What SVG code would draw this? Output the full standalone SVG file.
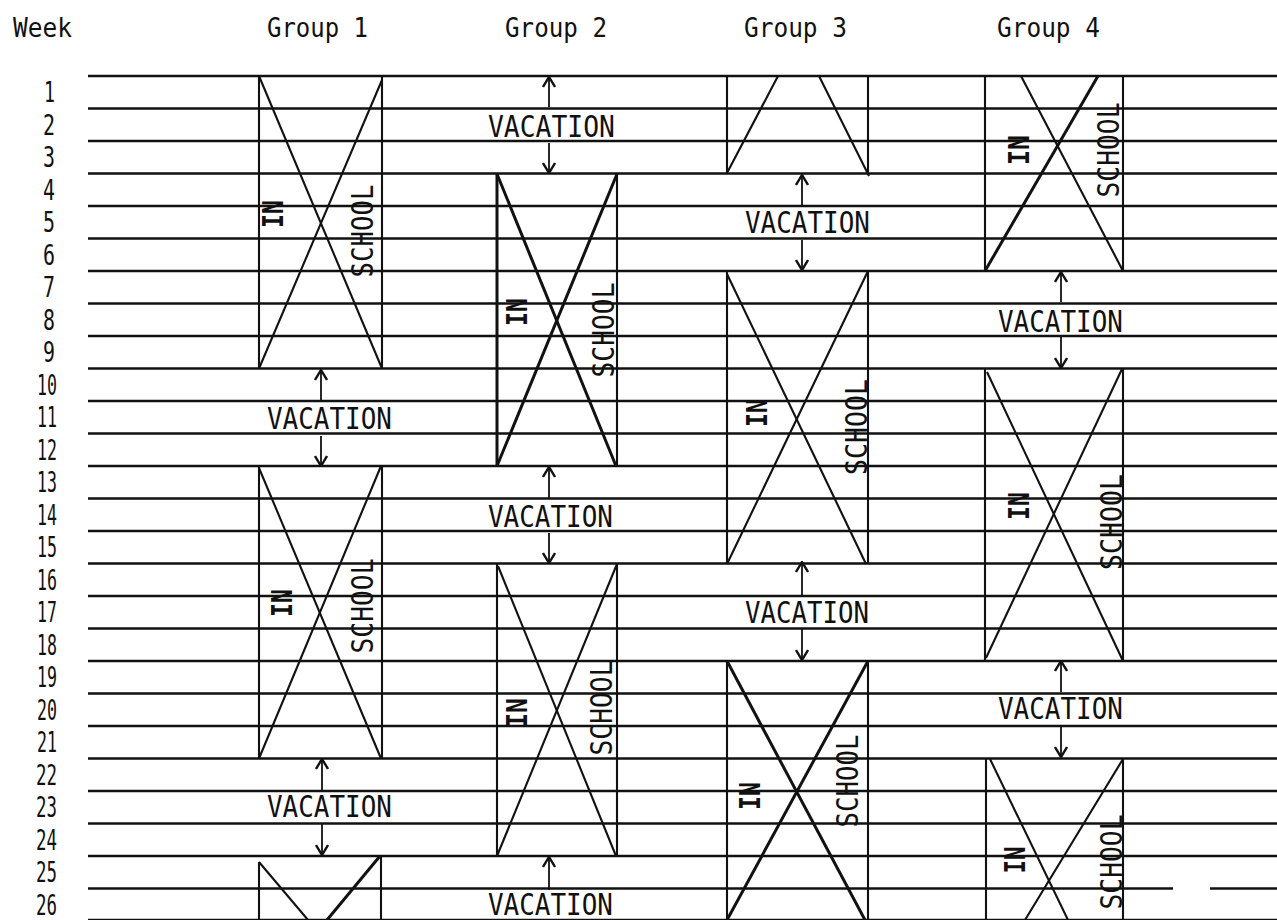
<svg xmlns="http://www.w3.org/2000/svg" width="1277" height="920" viewBox="0 0 1277 920">
<style>
  text { font-family: "DejaVu Sans Mono", "Liberation Mono", monospace; fill: #111; }
  .hdr { font-size: 26px; }
  .num { font-size: 28px; text-anchor: end; }
  .vac { font-size: 31px; }
  .in { font-size: 28px; text-anchor: middle; font-weight: bold; }
  .sch { font-size: 31px; text-anchor: middle; }
  .grid line { stroke: #111; stroke-width: 2.6; }
  .box line { stroke: #111; stroke-width: 2.1; }
  .box line.b { stroke-width: 3; }
  .arr { stroke: #111; stroke-width: 1.8; marker-end: url(#ah); }
</style>
<defs>
  <marker id="ah" viewBox="0 0 12 14" refX="11" refY="7" markerWidth="12" markerHeight="14" markerUnits="userSpaceOnUse" orient="auto">
    <path d="M1,1 L11,7 L1,13" fill="none" stroke="#111" stroke-width="2.4"/>
  </marker>
</defs>
<rect width="1277" height="920" fill="#fff"/>

<g id="headers">
  <text class="hdr" x="13" y="37" textLength="59" lengthAdjust="spacingAndGlyphs">Week</text>
  <text class="hdr" x="267" y="37" textLength="101" lengthAdjust="spacingAndGlyphs">Group 1</text>
  <text class="hdr" x="505" y="37" textLength="102" lengthAdjust="spacingAndGlyphs">Group 2</text>
  <text class="hdr" x="744" y="37" textLength="103" lengthAdjust="spacingAndGlyphs">Group 3</text>
  <text class="hdr" x="997" y="37" textLength="103" lengthAdjust="spacingAndGlyphs">Group 4</text>
</g>

<g id="week-numbers">
  <text class="num" x="55" y="102.25" textLength="11" lengthAdjust="spacingAndGlyphs">1</text>
  <text class="num" x="55" y="134.75" textLength="12" lengthAdjust="spacingAndGlyphs">2</text>
  <text class="num" x="55" y="167.25" textLength="12" lengthAdjust="spacingAndGlyphs">3</text>
  <text class="num" x="55" y="199.75" textLength="12" lengthAdjust="spacingAndGlyphs">4</text>
  <text class="num" x="55" y="232.25" textLength="12" lengthAdjust="spacingAndGlyphs">5</text>
  <text class="num" x="55" y="264.75" textLength="12" lengthAdjust="spacingAndGlyphs">6</text>
  <text class="num" x="55" y="297.25" textLength="12" lengthAdjust="spacingAndGlyphs">7</text>
  <text class="num" x="55" y="329.75" textLength="12" lengthAdjust="spacingAndGlyphs">8</text>
  <text class="num" x="55" y="362.25" textLength="12" lengthAdjust="spacingAndGlyphs">9</text>
  <text class="num" x="57" y="394.75" textLength="20" lengthAdjust="spacingAndGlyphs">10</text>
  <text class="num" x="57" y="427.25" textLength="20" lengthAdjust="spacingAndGlyphs">11</text>
  <text class="num" x="57" y="459.75" textLength="20" lengthAdjust="spacingAndGlyphs">12</text>
  <text class="num" x="57" y="492.25" textLength="20" lengthAdjust="spacingAndGlyphs">13</text>
  <text class="num" x="57" y="524.75" textLength="20" lengthAdjust="spacingAndGlyphs">14</text>
  <text class="num" x="57" y="557.25" textLength="20" lengthAdjust="spacingAndGlyphs">15</text>
  <text class="num" x="57" y="589.75" textLength="20" lengthAdjust="spacingAndGlyphs">16</text>
  <text class="num" x="57" y="622.25" textLength="20" lengthAdjust="spacingAndGlyphs">17</text>
  <text class="num" x="57" y="654.75" textLength="20" lengthAdjust="spacingAndGlyphs">18</text>
  <text class="num" x="57" y="687.25" textLength="20" lengthAdjust="spacingAndGlyphs">19</text>
  <text class="num" x="57" y="719.75" textLength="20" lengthAdjust="spacingAndGlyphs">20</text>
  <text class="num" x="57" y="752.25" textLength="20" lengthAdjust="spacingAndGlyphs">21</text>
  <text class="num" x="57" y="784.75" textLength="21" lengthAdjust="spacingAndGlyphs">22</text>
  <text class="num" x="57" y="817.25" textLength="21" lengthAdjust="spacingAndGlyphs">23</text>
  <text class="num" x="57" y="849.75" textLength="21" lengthAdjust="spacingAndGlyphs">24</text>
  <text class="num" x="57" y="882.25" textLength="21" lengthAdjust="spacingAndGlyphs">25</text>
  <text class="num" x="57" y="914.75" textLength="21" lengthAdjust="spacingAndGlyphs">26</text>
</g>

<g id="grid" class="grid">
  <line x1="88" y1="76" x2="1277" y2="76"/>
  <line x1="88" y1="108.5" x2="1277" y2="108.5"/>
  <line x1="88" y1="141" x2="1277" y2="141"/>
  <line x1="88" y1="173.5" x2="1277" y2="173.5"/>
  <line x1="88" y1="206" x2="1277" y2="206"/>
  <line x1="88" y1="238.5" x2="1277" y2="238.5"/>
  <line x1="88" y1="271" x2="1277" y2="271"/>
  <line x1="88" y1="303.5" x2="1277" y2="303.5"/>
  <line x1="88" y1="336" x2="1277" y2="336"/>
  <line x1="88" y1="368.5" x2="1277" y2="368.5"/>
  <line x1="88" y1="401" x2="1277" y2="401"/>
  <line x1="88" y1="433.5" x2="1277" y2="433.5"/>
  <line x1="88" y1="466" x2="1277" y2="466"/>
  <line x1="88" y1="498.5" x2="1277" y2="498.5"/>
  <line x1="88" y1="531" x2="1277" y2="531"/>
  <line x1="88" y1="563.5" x2="1277" y2="563.5"/>
  <line x1="88" y1="596" x2="1277" y2="596"/>
  <line x1="88" y1="628.5" x2="1277" y2="628.5"/>
  <line x1="88" y1="661" x2="1277" y2="661"/>
  <line x1="88" y1="693.5" x2="1277" y2="693.5"/>
  <line x1="88" y1="726" x2="1277" y2="726"/>
  <line x1="88" y1="758.5" x2="1277" y2="758.5"/>
  <line x1="88" y1="791" x2="1277" y2="791"/>
  <line x1="88" y1="823.5" x2="1277" y2="823.5"/>
  <line x1="88" y1="856" x2="1277" y2="856"/>
  <line x1="88" y1="888.5" x2="1173" y2="888.5"/>
  <line x1="1210" y1="888.5" x2="1277" y2="888.5"/>
  <line x1="88" y1="920" x2="1277" y2="920"/>
</g>

<!-- Group 1 -->
<g id="g1-school-1" class="box">
  <line x1="259" y1="76" x2="259" y2="368.5"/>
  <line x1="382" y1="76" x2="382" y2="368.5"/>
  <line x1="259" y1="76" x2="382" y2="368.5"/>
  <line x1="382" y1="80" x2="259" y2="368.5"/>
  <text class="in" transform="translate(283,214) rotate(-90)" textLength="28" lengthAdjust="spacingAndGlyphs">IN</text>
  <text class="sch" transform="translate(373,231) rotate(-90)" textLength="93" lengthAdjust="spacingAndGlyphs">SCHOOL</text>
</g>
<g id="g1-vacation-1">
  <text class="vac" x="267" y="429" textLength="125" lengthAdjust="spacingAndGlyphs">VACATION</text>
</g>
<g id="g1-school-2" class="box">
  <line x1="259" y1="466" x2="259" y2="758.5"/>
  <line x1="382" y1="466" x2="382" y2="758.5"/>
  <line x1="259" y1="468" x2="381" y2="758.5"/>
  <line x1="381" y1="466" x2="259" y2="758.5"/>
  <text class="in" transform="translate(292,603) rotate(-90)" textLength="28" lengthAdjust="spacingAndGlyphs">IN</text>
  <text class="sch" transform="translate(373,606) rotate(-90)" textLength="95" lengthAdjust="spacingAndGlyphs">SCHOOL</text>
</g>
<g id="g1-vacation-2">
  <text class="vac" x="267" y="817" textLength="125" lengthAdjust="spacingAndGlyphs">VACATION</text>
</g>
<g id="g1-school-3" class="box">
  <line x1="259" y1="862" x2="259" y2="920"/>
  <line x1="381" y1="856" x2="381" y2="920"/>
  <line x1="259" y1="862" x2="308" y2="920"/>
  <line class="b" x1="380" y1="856" x2="327" y2="920"/>
</g>

<!-- Group 2 -->
<g id="g2-vacation-1">
  <text class="vac" x="488" y="137" textLength="127" lengthAdjust="spacingAndGlyphs">VACATION</text>
</g>
<g id="g2-school-1" class="box">
  <line class="b" x1="497" y1="174" x2="497" y2="466"/>
  <line x1="617" y1="174" x2="617" y2="466"/>
  <line class="b" x1="497" y1="174" x2="616" y2="466"/>
  <line class="b" x1="617" y1="174" x2="497" y2="466"/>
  <text class="in" transform="translate(527,312) rotate(-90)" textLength="28" lengthAdjust="spacingAndGlyphs">IN</text>
  <text class="sch" transform="translate(614,330) rotate(-90)" textLength="95" lengthAdjust="spacingAndGlyphs">SCHOOL</text>
</g>
<g id="g2-vacation-2">
  <text class="vac" x="488" y="527" textLength="125" lengthAdjust="spacingAndGlyphs">VACATION</text>
</g>
<g id="g2-school-2" class="box">
  <line x1="497" y1="564" x2="497" y2="856"/>
  <line x1="617" y1="564" x2="617" y2="856"/>
  <line x1="498" y1="566" x2="616" y2="856"/>
  <line x1="617" y1="564" x2="497" y2="856"/>
  <text class="in" transform="translate(527,713) rotate(-90)" textLength="30" lengthAdjust="spacingAndGlyphs">IN</text>
  <text class="sch" transform="translate(612,708) rotate(-90)" textLength="95" lengthAdjust="spacingAndGlyphs">SCHOOL</text>
</g>
<g id="g2-vacation-3">
  <text class="vac" x="488" y="915" textLength="125" lengthAdjust="spacingAndGlyphs">VACATION</text>
</g>

<!-- Group 3 -->
<g id="g3-school-0" class="box">
  <line x1="727" y1="76" x2="727" y2="174"/>
  <line x1="868" y1="76" x2="868" y2="174"/>
  <line x1="778" y1="76" x2="727" y2="173"/>
  <line x1="819" y1="76" x2="869" y2="176"/>
</g>
<g id="g3-vacation-1">
  <text class="vac" x="745" y="233" textLength="125" lengthAdjust="spacingAndGlyphs">VACATION</text>
</g>
<g id="g3-school-1" class="box">
  <line x1="727" y1="271" x2="727" y2="564"/>
  <line x1="868" y1="271" x2="868" y2="564"/>
  <line x1="727" y1="274" x2="866" y2="564"/>
  <line x1="868" y1="271" x2="727" y2="564"/>
  <text class="in" transform="translate(767,413) rotate(-90)" textLength="28" lengthAdjust="spacingAndGlyphs">IN</text>
  <text class="sch" transform="translate(867,427) rotate(-90)" textLength="96" lengthAdjust="spacingAndGlyphs">SCHOOL</text>
</g>
<g id="g3-vacation-2">
  <text class="vac" x="745" y="623" textLength="124" lengthAdjust="spacingAndGlyphs">VACATION</text>
</g>
<g id="g3-school-2" class="box">
  <line x1="727" y1="661" x2="727" y2="920"/>
  <line x1="868" y1="661" x2="868" y2="920"/>
  <line class="b" x1="727" y1="661" x2="865" y2="920"/>
  <line class="b" x1="868" y1="661" x2="727" y2="920"/>
  <text class="in" transform="translate(760,796) rotate(-90)" textLength="28" lengthAdjust="spacingAndGlyphs">IN</text>
  <text class="sch" transform="translate(858,781) rotate(-90)" textLength="93" lengthAdjust="spacingAndGlyphs">SCHOOL</text>
</g>

<!-- Group 4 -->
<g id="g4-school-0" class="box">
  <line x1="985" y1="76" x2="985" y2="271"/>
  <line x1="1123" y1="76" x2="1123" y2="271"/>
  <line x1="1021" y1="76" x2="1123" y2="271"/>
  <line class="b" x1="1098" y1="76" x2="985" y2="271"/>
  <text class="in" transform="translate(1029,150) rotate(-90)" textLength="30" lengthAdjust="spacingAndGlyphs">IN</text>
  <text class="sch" transform="translate(1119,150) rotate(-90)" textLength="95" lengthAdjust="spacingAndGlyphs">SCHOOL</text>
</g>
<g id="g4-vacation-1">
  <text class="vac" x="998" y="332" textLength="125" lengthAdjust="spacingAndGlyphs">VACATION</text>
</g>
<g id="g4-school-1" class="box">
  <line x1="985" y1="369" x2="985" y2="661"/>
  <line x1="1123" y1="369" x2="1123" y2="661"/>
  <line x1="987" y1="372" x2="1123" y2="661"/>
  <line x1="1122" y1="369" x2="986" y2="658"/>
  <text class="in" transform="translate(1029,506) rotate(-90)" textLength="28" lengthAdjust="spacingAndGlyphs">IN</text>
  <text class="sch" transform="translate(1122,522) rotate(-90)" textLength="96" lengthAdjust="spacingAndGlyphs">SCHOOL</text>
</g>
<g id="g4-vacation-2">
  <text class="vac" x="998" y="719" textLength="125" lengthAdjust="spacingAndGlyphs">VACATION</text>
</g>
<g id="g4-school-2" class="box">
  <line x1="986" y1="759" x2="986" y2="920"/>
  <line x1="1123" y1="759" x2="1123" y2="920"/>
  <line x1="990" y1="759" x2="1068" y2="920"/>
  <line x1="1123" y1="759" x2="1025" y2="920"/>
  <text class="in" transform="translate(1025,860) rotate(-90)" textLength="27" lengthAdjust="spacingAndGlyphs">IN</text>
  <text class="sch" transform="translate(1122,862) rotate(-90)" textLength="95" lengthAdjust="spacingAndGlyphs">SCHOOL</text>
</g>

<g id="connectors">
  <!-- Group 1 -->
  <line class="arr" x1="321" y1="401" x2="321" y2="370"/>
  <line class="arr" x1="321" y1="436" x2="321" y2="466"/>
  <line class="arr" x1="322" y1="790" x2="322" y2="759"/>
  <line class="arr" x1="322" y1="824" x2="322" y2="855"/>
  <!-- Group 2 -->
  <line class="arr" x1="549" y1="107" x2="549" y2="77"/>
  <line class="arr" x1="549" y1="143" x2="549" y2="173"/>
  <line class="arr" x1="549" y1="498" x2="549" y2="467"/>
  <line class="arr" x1="549" y1="533" x2="549" y2="563"/>
  <line class="arr" x1="549" y1="890" x2="549" y2="857"/>
  <!-- Group 3 -->
  <line class="arr" x1="802" y1="205" x2="802" y2="175"/>
  <line class="arr" x1="802" y1="240" x2="802" y2="270"/>
  <line class="arr" x1="802" y1="595" x2="802" y2="562"/>
  <line class="arr" x1="802" y1="628" x2="802" y2="660"/>
  <!-- Group 4 -->
  <line class="arr" x1="1061" y1="302" x2="1061" y2="272"/>
  <line class="arr" x1="1061" y1="337" x2="1061" y2="368"/>
  <line class="arr" x1="1061" y1="692" x2="1061" y2="661"/>
  <line class="arr" x1="1061" y1="725" x2="1061" y2="757"/>
</g>
</svg>
